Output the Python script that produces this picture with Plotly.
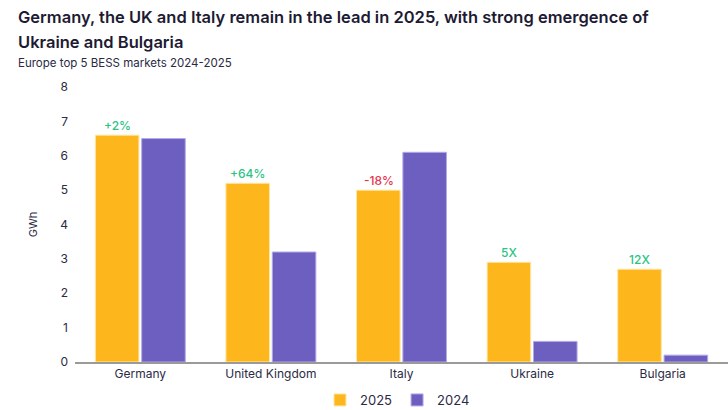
import plotly.graph_objects as go

countries = ["Germany", "United Kingdom", "Italy", "Ukraine", "Bulgaria"]
gwh_2025 = [6.6, 5.2, 5.0, 2.9, 2.7]
gwh_2024 = [6.5, 3.2, 6.1, 0.6, 0.2]
change_labels = ["+2%", "+64%", "-18%", "5X", "12X"]
change_colors = ["#2cc384", "#2cc384", "#e8364f", "#2cc384", "#2cc384"]

title_lines = [
    "Germany, the UK and Italy remain in the lead in 2025, with strong emergence of",
    "Ukraine and Bulgaria",
]
subtitle = "Europe top 5 BESS markets 2024-2025"

ORANGE = "#fdb71c"
PURPLE = "#6c5fc0"
TEXT = "#2b2a45"
FONT = "Inter, Noto Sans, sans-serif"

W, H = 728, 410
ML, MR, MT, MB = 75, 0, 87, 48
PW, PH = W - ML - MR, H - MT - MB


def px_x(px):
    return (px - ML) / PW


def px_y(py):
    return (H - MB - py) / PH


fig = go.Figure()
fig.add_trace(go.Bar(
    name="2025", x=countries, y=gwh_2025,
    marker=dict(color=ORANGE, line=dict(color="#ffe6a6", width=1)),
))
fig.add_trace(go.Bar(
    name="2024", x=countries, y=gwh_2024,
    marker=dict(color=PURPLE, line=dict(color="#b3abe6", width=1)),
))

annotations = []
for c, v, lab, col in zip(countries, gwh_2025, change_labels, change_colors):
    annotations.append(dict(
        text=lab, x=c, y=v, xref="x", yref="y", xshift=-23, yshift=0,
        xanchor="center", yanchor="bottom", showarrow=False,
        font=dict(size=12, color=col, family=FONT, weight=500),
    ))
for line, yc in zip(title_lines, [17, 42]):
    annotations.append(dict(
        text=line, xref="paper", yref="paper", x=px_x(16), y=px_y(yc),
        xanchor="left", yanchor="middle", showarrow=False,
        font=dict(size=16.5, color="#1d1b33", family=FONT, weight=600),
    ))
annotations.append(dict(
    text=subtitle, xref="paper", yref="paper", x=px_x(16), y=px_y(63),
    xanchor="left", yanchor="middle", showarrow=False,
    font=dict(size=11.5, color=TEXT, family=FONT),
))

fig.update_layout(
    width=W, height=H,
    paper_bgcolor="white", plot_bgcolor="white",
    margin=dict(l=ML, r=MR, t=MT, b=MB, autoexpand=False),
    barmode="group", bargap=0.29, bargroupgap=0.06,
    font=dict(family=FONT, color=TEXT, size=12),
    showlegend=True,
    legend=dict(orientation="h", x=px_x(320), xanchor="left", y=px_y(385), yanchor="top",
                font=dict(size=13, color=TEXT), itemwidth=30, traceorder="normal",
                bgcolor="rgba(0,0,0,0)"),
    xaxis=dict(showline=True, linecolor="#9a9a9a", linewidth=1.5, showgrid=False,
               ticks="", tickfont=dict(size=12, color=TEXT), automargin=False),
    yaxis=dict(range=[0, 8], dtick=1, showgrid=False, zeroline=False, showline=False,
               ticks="", tickfont=dict(size=12, color=TEXT), ticklabelstandoff=6,
               automargin=False,
               title=dict(text="GWh", font=dict(size=11, color=TEXT), standoff=20)),
    annotations=annotations,
)

fig.write_html("out.html", config={"displayModeBar": False},
               post_script="document.body.style.margin='0';")
